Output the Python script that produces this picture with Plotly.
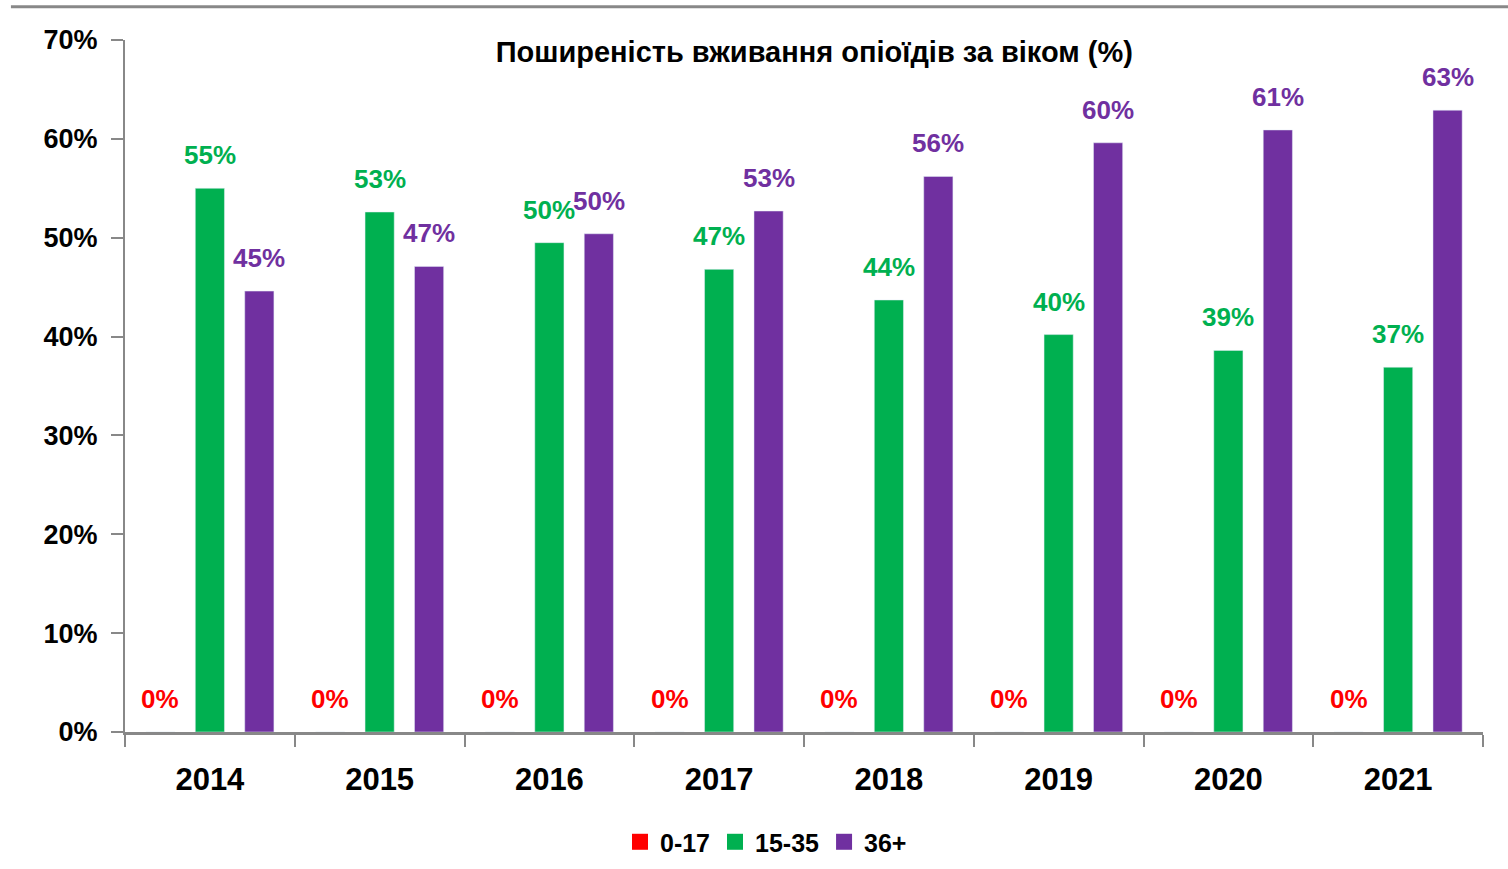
import plotly.graph_objects as go

years = ["2014", "2015", "2016", "2017", "2018", "2019", "2020", "2021"]
age_0_17 = [0, 0, 0, 0, 0, 0, 0, 0]
age_15_35 = [55.0, 52.6, 49.5, 46.8, 43.7, 40.2, 38.6, 36.9]
age_36_plus = [44.6, 47.1, 50.4, 52.7, 56.2, 59.6, 60.9, 62.9]
series_names = ["0-17", "15-35", "36+"]
colors = ["#FF0000", "#00B050", "#7030A0"]
title_text = "Поширеність вживання опіоїдів за віком (%)"

FONT = "Liberation Sans"
fig = go.Figure()
all_series = [age_0_17, age_15_35, age_36_plus]
for name, vals, col in zip(series_names, all_series, colors):
    fig.add_trace(go.Bar(
        x=years, y=vals, name=name, marker_color=col,
        showlegend=False, legendgroup=name, hoverinfo="x+y+name",
    ))
    # legend entry with a larger square swatch
    fig.add_trace(go.Scatter(
        x=[None], y=[None], mode="markers", name=name, legendgroup=name,
        marker=dict(symbol="square", size=17, color=col),
        showlegend=True,
    ))

# data labels above each bar (offset within each group)
n = len(series_names)
for si, (vals, col) in enumerate(zip(all_series, colors)):
    for ci, v in enumerate(vals):
        fig.add_annotation(
            x=ci + (si - 1) * (1 - 0.126) / n, y=v, xref="x", yref="y",
            text=f"{v:.0f}%", showarrow=False, yshift=33, yanchor="middle",
            font=dict(family=FONT, size=26, color=col, weight="bold"),
        )

fig.add_shape(type="line", xref="paper", yref="paper",
              x0=-0.084, x1=1.02, y0=1.048, y1=1.048,
              line=dict(color="#888888", width=3))

fig.update_layout(
    width=1508, height=869,
    margin=dict(l=125, r=25, t=40, b=137, autoexpand=False),
    paper_bgcolor="white", plot_bgcolor="white",
    barmode="group", bargap=0.126, bargroupgap=0.41,
    title=dict(text=title_text, x=0.54, xanchor="center", y=1 - 52 / 869, yanchor="middle",
               font=dict(family=FONT, size=29, color="#000000", weight="bold")),
    legend=dict(orientation="h", x=0.472, xanchor="center", y=-0.159, yanchor="middle",
                font=dict(family=FONT, size=25, color="#000000", weight="bold"),
                itemsizing="trace", traceorder="normal", tracegroupgap=0),
    showlegend=True,
)
fig.update_xaxes(
    type="category", showline=True, linecolor="#888888", linewidth=3,
    ticks="outside", tickson="boundaries", ticklen=12, tickwidth=2, tickcolor="#888888",
    tickfont=dict(family=FONT, size=31, color="#000000", weight="bold"),
    ticklabelstandoff=18, showgrid=False, zeroline=False,
)
fig.update_yaxes(
    range=[0, 70], dtick=10, ticksuffix="%", showline=True, linecolor="#888888", linewidth=2,
    ticks="outside", ticklen=12, tickwidth=2, tickcolor="#888888",
    tickfont=dict(family=FONT, size=27, color="#000000", weight="bold"),
    ticklabelstandoff=8, showgrid=False, zeroline=False,
)
fig.write_html("out.html", config={"displayModeBar": False},
               post_script="document.body.style.margin='0px';")
